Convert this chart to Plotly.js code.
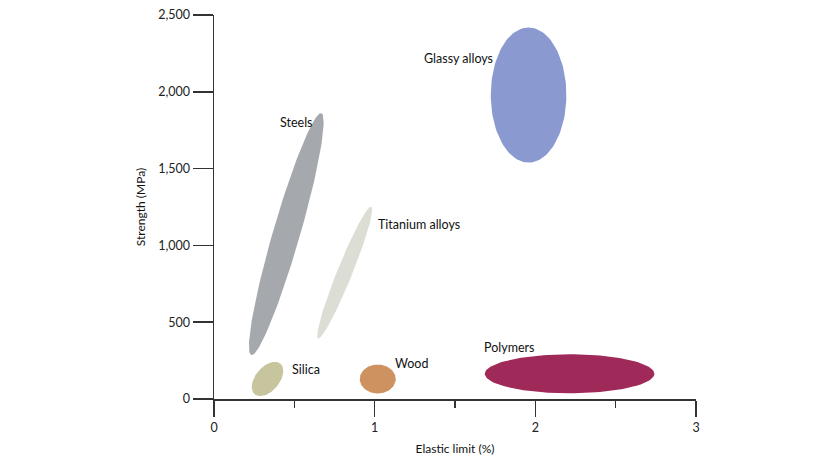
<!DOCTYPE html>
<html>
<head>
<meta charset="utf-8">
<script src="https://cdn.plot.ly/plotly-3.0.1.min.js"></script>
<style>
  html, body { margin: 0; padding: 0; background: transparent; }
  #chart { width: 840px; height: 468px; }
</style>
</head>
<body>
<div id="chart"></div>
<script>
// ---- Data ----
const materials      = ["Steels", "Titanium alloys", "Silica", "Wood", "Polymers", "Glassy alloys"];
// Major-axis end points of each material's region (elastic limit %, strength MPa)
const elasticFrom    = [0.232, 0.648, 0.253, 0.907, 1.685, 1.958];
const elasticTo      = [0.668, 0.979, 0.413, 1.131, 2.741, 1.958];
const strengthFrom   = [286,   395,   31,    130,   164,   1539];
const strengthTo     = [1860,  1252,  230,   130,   164,   2419];
// Label anchor points (data coordinates)
const labelElastic   = [0.396, 1.011, 0.470, 1.112, 1.665, 1.297];
const labelStrength  = [1803,  1133,  195,   228,   337,   2214];
const xTickVals      = [0, 1, 2, 3];
const yTickVals      = [0, 500, 1000, 1500, 2000, 2500];

// ---- Styles ----
const fills     = ["#a5a9ae", "#dcddd4", "#c7c59d", "#cd925f", "#9f2a5a", "#8a9ad0"];
const halfWidth = [13.5, 7.5, 12, 14.5, 19.5, 37.8];   // minor semi-axis, px
const M = {l: 214, r: 144, t: 15, b: 69};
const W = 840, H = 468;
const plotW = W - M.l - M.r, plotH = H - M.t - M.b;
const xRange = [0, 3], yRange = [0, 2500];
const pxX = plotW / (xRange[1] - xRange[0]);
const pxY = plotH / (yRange[1] - yRange[0]);
const FONT = "Lato, 'Noto Sans', sans-serif";

function ellipse(i) {
  // work in pixel-proportional space so the shape is a true ellipse on screen
  const x1 = elasticFrom[i] * pxX, y1 = strengthFrom[i] * pxY;
  const x2 = elasticTo[i] * pxX,   y2 = strengthTo[i] * pxY;
  const cx = (x1 + x2) / 2, cy = (y1 + y2) / 2;
  const a = Math.hypot(x2 - x1, y2 - y1) / 2;
  const b = halfWidth[i];
  const th = Math.atan2(y2 - y1, x2 - x1);
  const xs = [], ys = [];
  for (let k = 0; k <= 120; k++) {
    const t = 2 * Math.PI * k / 120;
    const u = a * Math.cos(t), v = b * Math.sin(t);
    xs.push((cx + u * Math.cos(th) - v * Math.sin(th)) / pxX);
    ys.push((cy + u * Math.sin(th) + v * Math.cos(th)) / pxY);
  }
  return {xs, ys};
}

const traces = materials.map((m, i) => {
  const e = ellipse(i);
  return {
    type: "scatter", mode: "lines", x: e.xs, y: e.ys,
    fill: "toself", fillcolor: fills[i],
    line: {width: 0, color: fills[i]},
    name: m, hoverinfo: "name", showlegend: false
  };
});

const annotations = materials.map((m, i) => ({
  x: labelElastic[i], y: labelStrength[i], xref: "x", yref: "y",
  text: m, showarrow: false, xanchor: "left", yanchor: "middle",
  font: {family: FONT, size: 12.5, color: "#111"}
}));

const axisCommon = {
  showline: true, linecolor: "#333", linewidth: 1.5,
  ticks: "outside", tickcolor: "#333", tickwidth: 1.5,
  showgrid: false, zeroline: false, fixedrange: true,
  tickfont: {family: FONT, size: 12.5, color: "#222"}
};

const layout = {
  width: W, height: H,
  margin: M,
  paper_bgcolor: "rgba(0,0,0,0)", plot_bgcolor: "rgba(0,0,0,0)",
  showlegend: false,
  xaxis: Object.assign({}, axisCommon, {
    range: xRange, tickvals: xTickVals, ticklen: 16,
    minor: {ticks: "outside", dtick: 0.5, tick0: 0, ticklen: 7, tickwidth: 1.5, tickcolor: "#333", showgrid: false},
    title: {text: "Elastic limit (%)", font: {family: FONT, size: 12, color: "#111"}, standoff: 11}
  }),
  yaxis: Object.assign({}, axisCommon, {
    range: yRange, tickvals: yTickVals, tickformat: ",", ticklen: 20,
    title: {text: "Strength (MPa)", font: {family: FONT, size: 12, color: "#111"}, standoff: 10}
  }),
  annotations: annotations
};

Plotly.newPlot("chart", traces, layout, {displayModeBar: false, staticPlot: true});
</script>
</body>
</html>
